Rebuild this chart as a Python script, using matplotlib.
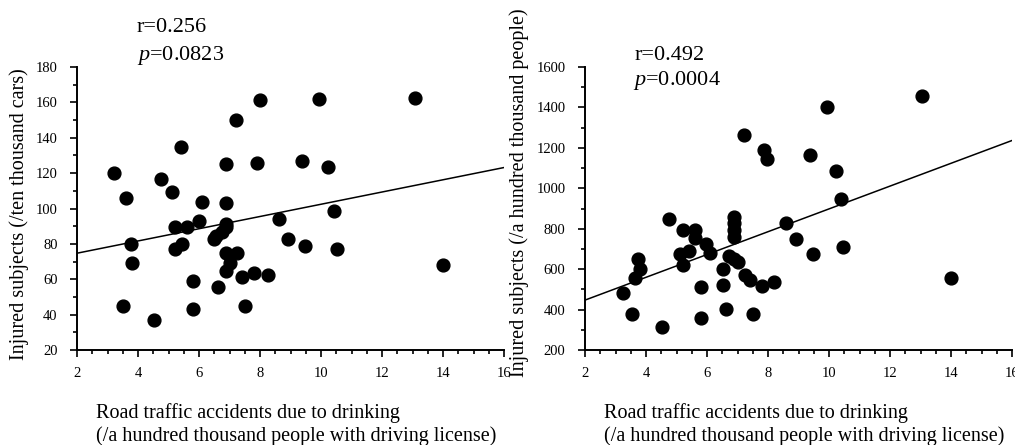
import matplotlib
matplotlib.use("Agg")
import matplotlib.pyplot as plt
from matplotlib.ticker import MultipleLocator
import numpy as np

plt.rcParams['font.family'] = ['Liberation Serif', 'DejaVu Serif']
plt.rcParams['mathtext.fontset'] = 'custom'
plt.rcParams['mathtext.rm'] = 'Liberation Serif'
plt.rcParams['mathtext.it'] = 'Liberation Serif:italic'

# ---- data: left panel (per ten thousand cars) ----
x_left = [3.22, 3.52, 3.62, 3.76, 3.80, 4.51, 4.75, 5.13, 5.20, 5.20, 5.42, 5.43,
          5.62, 5.81, 5.81, 6.00, 6.10, 6.49, 6.57, 6.62, 6.74, 6.89, 6.90, 6.90,
          6.90, 6.88, 6.90, 7.01, 7.22, 7.23, 7.40, 7.50, 7.80, 7.89, 8.00, 8.25,
          8.62, 8.92, 9.39, 9.49, 9.94, 10.23, 10.41, 10.52, 13.09, 14.00]
y_left = [120, 44.7, 105.8, 79.8, 69.2, 37, 116.7, 109.2, 89.8, 77, 135, 80,
          89.8, 58.8, 43, 93.1, 103.6, 82.6, 84.7, 55.8, 86.6, 89.3, 91.5, 103.2,
          125.4, 75.1, 64.9, 69.1, 150.3, 75.1, 61.1, 44.9, 63.7, 126, 161.3, 62.4,
          94.2, 82.6, 126.7, 79.0, 162, 123.7, 98.5, 77, 162.6, 68]

# ---- data: right panel (per hundred thousand people) ----
x_right = [3.23, 3.53, 3.63, 3.73, 3.80, 4.51, 4.75, 5.11, 5.20, 5.20, 5.42, 5.60,
           5.60, 5.80, 5.80, 5.98, 6.09, 6.51, 6.51, 6.62, 6.72, 6.90, 6.90, 6.90,
           6.90, 6.90, 7.00, 7.22, 7.24, 7.40, 7.51, 7.79, 7.87, 7.98, 8.20, 8.59,
           8.92, 9.37, 9.48, 9.95, 10.24, 10.40, 10.45, 13.06, 14.01]
y_right = [480, 378, 557, 650, 599, 315, 849, 676, 796, 620, 690, 793,
           752, 513, 360, 725, 678, 599, 521, 401, 663, 856, 826, 793,
           757, 648, 635, 1262, 570, 544, 378, 516, 1191, 1145, 534, 826,
           747, 1163, 674, 1402, 1086, 946, 710, 1455, 554]

# regression lines (intercept, slope)
fit_left = (67.8, 3.46)
fit_right = (334.0, 56.4)

stats_left = ("r=0.256", "0.0823")
stats_right = ("r=0.492", "0.0004")

xlabel_text = "Road traffic accidents due to drinking\n(/a hundred thousand people with driving license)"
ylabel_left = "Injured subjects (/ten thousand cars)"
ylabel_right = "Injured subjects (/a hundred thousand people)"

W, H = 1015, 445
fig = plt.figure(figsize=(W / 100, H / 100), dpi=100)

def px_axes(l, t, r, b):
    return fig.add_axes([l / W, 1 - b / H, (r - l) / W, (b - t) / H])

ax1 = px_axes(77, 67, 504, 350)
ax2 = px_axes(585, 67, 1012, 350)

def style(ax, ylim, ymaj, ymin):
    ax.set_xlim(2, 16)
    ax.set_ylim(*ylim)
    ax.xaxis.set_major_locator(MultipleLocator(2))
    ax.xaxis.set_minor_locator(MultipleLocator(0.5))
    ax.yaxis.set_major_locator(MultipleLocator(ymaj))
    ax.yaxis.set_minor_locator(MultipleLocator(ymin))
    for s in ['top', 'right']:
        ax.spines[s].set_visible(False)
    for s in ['left', 'bottom']:
        ax.spines[s].set_linewidth(1.4)
    ax.tick_params(which='major', direction='out', length=5, width=1.2,
                   labelsize=10.5, pad=9)
    ax.tick_params(which='minor', direction='out', length=3, width=1.2)
    ax.tick_params(axis='x', which='major', pad=7)
    ax.set_xlabel(xlabel_text, fontsize=14.5, multialignment='left')
    ax.xaxis.set_label_coords(0.514, -0.187)

style(ax1, (20, 180), 20, 10)
style(ax2, (200, 1600), 200, 100)

for ax, xs, ys, fit in [(ax1, x_left, y_left, fit_left), (ax2, x_right, y_right, fit_right)]:
    ax.scatter(xs, ys, s=85, color='black', zorder=3, clip_on=False)
    xx = np.array([2, 16])
    ax.plot(xx, fit[0] + fit[1] * xx, color='black', lw=1.1, zorder=2)

ax1.set_ylabel(ylabel_left, fontsize=14.5)
ax1.yaxis.set_label_coords(-0.112, 0.48)
ax2.set_ylabel(ylabel_right, fontsize=14.5)
ax2.yaxis.set_label_coords(-0.132, 0.555)

ax1.text(0.14, 1.138, stats_left[0], transform=ax1.transAxes, fontsize=16, va='center', ha='left')
ax1.text(0.14, 1.042, r"$\it{p}$=" + stats_left[1], transform=ax1.transAxes, fontsize=16, va='center', ha='left')
ax2.text(0.117, 1.042, stats_right[0], transform=ax2.transAxes, fontsize=16, va='center', ha='left')
ax2.text(0.112, 0.954, r"$\it{p}$=" + stats_right[1], transform=ax2.transAxes, fontsize=16, va='center', ha='left')

fig.savefig("out.png", dpi=100)
